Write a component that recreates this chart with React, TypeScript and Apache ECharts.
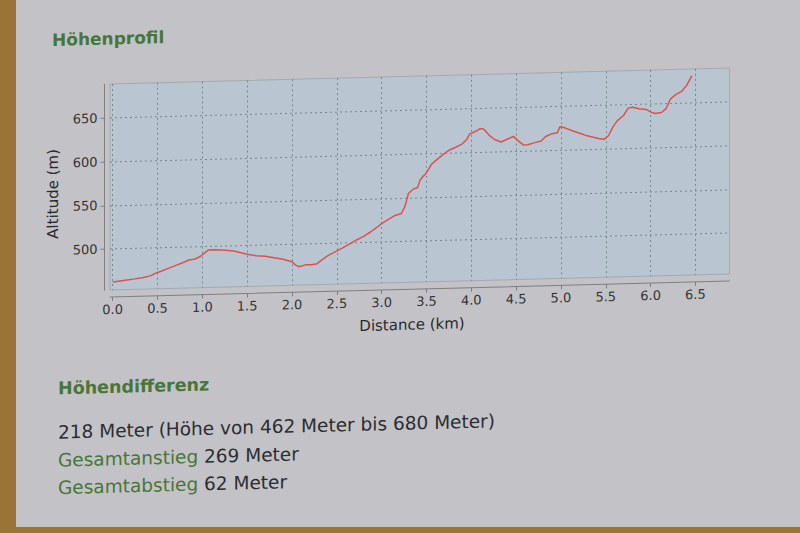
import React, { useEffect, useRef } from "react";
import * as echarts from "echarts";

// Elevation profile
const distanceKm = [
  0.0, 0.08, 0.16, 0.25, 0.33, 0.42, 0.48, 0.54, 0.62, 0.7, 0.78, 0.85, 0.92, 0.98,
  1.03, 1.07, 1.15, 1.25, 1.35, 1.42, 1.5, 1.6, 1.7, 1.8, 1.9, 2.0, 2.04, 2.08,
  2.15, 2.22, 2.28, 2.33, 2.4, 2.48, 2.56, 2.65, 2.72, 2.8, 2.88, 2.95, 3.0, 3.08,
  3.15, 3.22, 3.26, 3.3, 3.36, 3.4, 3.43, 3.5, 3.56, 3.62, 3.68, 3.75, 3.82, 3.9,
  3.95, 3.98, 4.05, 4.1, 4.14, 4.2, 4.26, 4.33, 4.4, 4.47, 4.52, 4.58, 4.63, 4.7,
  4.78, 4.83, 4.9, 4.96, 4.99, 5.05, 5.12, 5.2, 5.28, 5.35, 5.42, 5.48, 5.53, 5.58,
  5.63, 5.7, 5.75, 5.8, 5.87, 5.95, 6.0, 6.05, 6.12, 6.17, 6.22, 6.28, 6.35, 6.4,
  6.46,
];
const altitudeM = [
  462, 463, 464, 465, 466, 468, 471, 473, 476, 479, 482, 485, 486, 489,
  493, 496, 496, 495, 494, 492, 490, 488, 487, 485, 483, 480, 476, 474,
  476, 476, 477, 481, 486, 490, 494, 499, 503, 507, 512, 517, 521, 526,
  530, 532, 540, 555, 560, 561, 570, 578, 588, 593, 598, 603, 606, 610,
  615, 621, 624, 627, 626, 619, 614, 611, 614, 617, 612, 607, 607, 609,
  611, 616, 619, 620, 627, 625, 622, 619, 616, 614, 612, 611, 615, 625,
  632, 638, 646, 647, 645, 644, 641, 639, 640, 644, 655, 660, 664, 670,
  681,
];
const xTickValues = [0, 0.5, 1, 1.5, 2, 2.5, 3, 3.5, 4, 4.5, 5, 5.5, 6, 6.5];
const yTickValues = [500, 550, 600, 650];

const titleText = "Höhenprofil";
const diffTitle = "Höhendifferenz";
const diffLine = "218 Meter (Höhe von 462 Meter bis 680 Meter)";
const ascentLabel = "Gesamtanstieg";
const ascentValue = "269 Meter";
const descentLabel = "Gesamtabstieg";
const descentValue = "62 Meter";
const xAxisName = "Distance (km)";
const yAxisName = "Altitude (m)";

const FONT = '"DejaVu Sans", "Noto Sans", sans-serif';
const GREEN = "#487639";
const DARK = "#2d2d31";

export default function App() {
  const ref = useRef<HTMLDivElement>(null);

  useEffect(() => {
    if (!ref.current) return;
    const chart = echarts.init(ref.current, undefined, { renderer: "svg" });
    const points = distanceKm.map((d, i) => [d, altitudeM[i]]);
    const axisGray = "#7d7f82";
    const gridLine = { show: true, lineStyle: { type: [2, 3] as any, color: "#768a8c", width: 1 } };

    chart.setOption({
      animation: false,
      backgroundColor: "transparent",
      grid: {
        left: 110,
        top: 76.5,
        right: 70.5,
        bottom: 250.5,
        show: true,
        backgroundColor: "#b9c5d0",
        borderColor: "#a2aab2",
        borderWidth: 1,
      },
      xAxis: {
        type: "value",
        min: -0.03,
        max: 6.88,
        offset: 7,
        axisLine: { show: true, onZero: false, lineStyle: { color: axisGray, width: 1 } },
        axisTick: { show: true, length: 4, customValues: xTickValues, lineStyle: { color: axisGray } },
        axisLabel: {
          customValues: xTickValues,
          formatter: (v: number) => v.toFixed(1),
          fontSize: 13,
          fontFamily: FONT,
          color: "#333336",
          margin: 6,
        },
        splitLine: gridLine,
      },
      yAxis: {
        type: "value",
        min: 453,
        max: 689,
        offset: 5.5,
        axisLine: { show: true, onZero: false, lineStyle: { color: axisGray, width: 1 } },
        axisTick: { show: true, length: 4, customValues: yTickValues, lineStyle: { color: axisGray } },
        axisLabel: {
          customValues: yTickValues,
          fontSize: 13,
          fontFamily: FONT,
          color: "#333336",
          margin: 7,
        },
        splitLine: gridLine,
      },
      series: [
        {
          type: "line",
          data: points,
          showSymbol: false,
          symbol: "none",
          lineStyle: { color: "#d9544e", width: 1.5 },
          clip: true,
        },
      ],
      graphic: [
        {
          type: "text",
          x: 53.5,
          y: 185,
          rotation: Math.PI / 2,
          style: { text: yAxisName, fill: "#2a2a2e", font: `15px ${FONT}`, textAlign: "center", textVerticalAlign: "middle" },
        },
        {
          type: "text",
          x: 412,
          y: 325,
          style: { text: xAxisName, fill: "#2a2a2e", font: `15px ${FONT}`, textAlign: "center", textVerticalAlign: "middle" },
        },
        {
          type: "text",
          x: 52,
          y: 31,
          style: { text: titleText, fill: GREEN, font: `bold 17px ${FONT}`, textAlign: "left", textVerticalAlign: "middle" },
        },
        {
          type: "text",
          x: 58,
          y: 379.5,
          style: { text: diffTitle, fill: GREEN, font: `bold 17.5px ${FONT}`, textAlign: "left", textVerticalAlign: "middle" },
        },
        {
          type: "text",
          x: 58,
          y: 423.3,
          style: { text: diffLine, fill: DARK, font: `18.5px ${FONT}`, textAlign: "left", textVerticalAlign: "middle" },
        },
        {
          type: "text",
          x: 58,
          y: 451.3,
          style: {
            text: `{g|${ascentLabel}} {k|${ascentValue}}`,
            font: `18.5px ${FONT}`,
            fill: DARK,
            textAlign: "left",
            textVerticalAlign: "middle",
            rich: {
              g: { fill: GREEN, font: `18.5px ${FONT}` },
              k: { fill: DARK, font: `18.5px ${FONT}` },
            },
          },
        },
        {
          type: "text",
          x: 58,
          y: 478.8,
          style: {
            text: `{g|${descentLabel}} {k|${descentValue}}`,
            font: `18.5px ${FONT}`,
            fill: DARK,
            textAlign: "left",
            textVerticalAlign: "middle",
            rich: {
              g: { fill: GREEN, font: `18.5px ${FONT}` },
              k: { fill: DARK, font: `18.5px ${FONT}` },
            },
          },
        },
      ],
    });

    return () => chart.dispose();
  }, []);

  return (
    <div
      style={{
        position: "fixed",
        left: 0,
        top: 0,
        width: 800,
        height: 533,
        overflow: "hidden",
        background: "#9a7436",
      }}
    >
      <div
        style={{
          position: "absolute",
          left: 16,
          top: 0,
          width: 784,
          height: 527,
          background: "#c3c3c7",
        }}
      />
      <div
        style={{
          position: "absolute",
          left: 0,
          top: 0,
          width: 800,
          height: 533,
          transform: "skewY(-1.48deg)",
          transformOrigin: "400px 266px",
        }}
      >
        <div ref={ref} style={{ position: "absolute", left: 0, top: 0, width: 800, height: 533 }} />
      </div>
    </div>
  );
}
